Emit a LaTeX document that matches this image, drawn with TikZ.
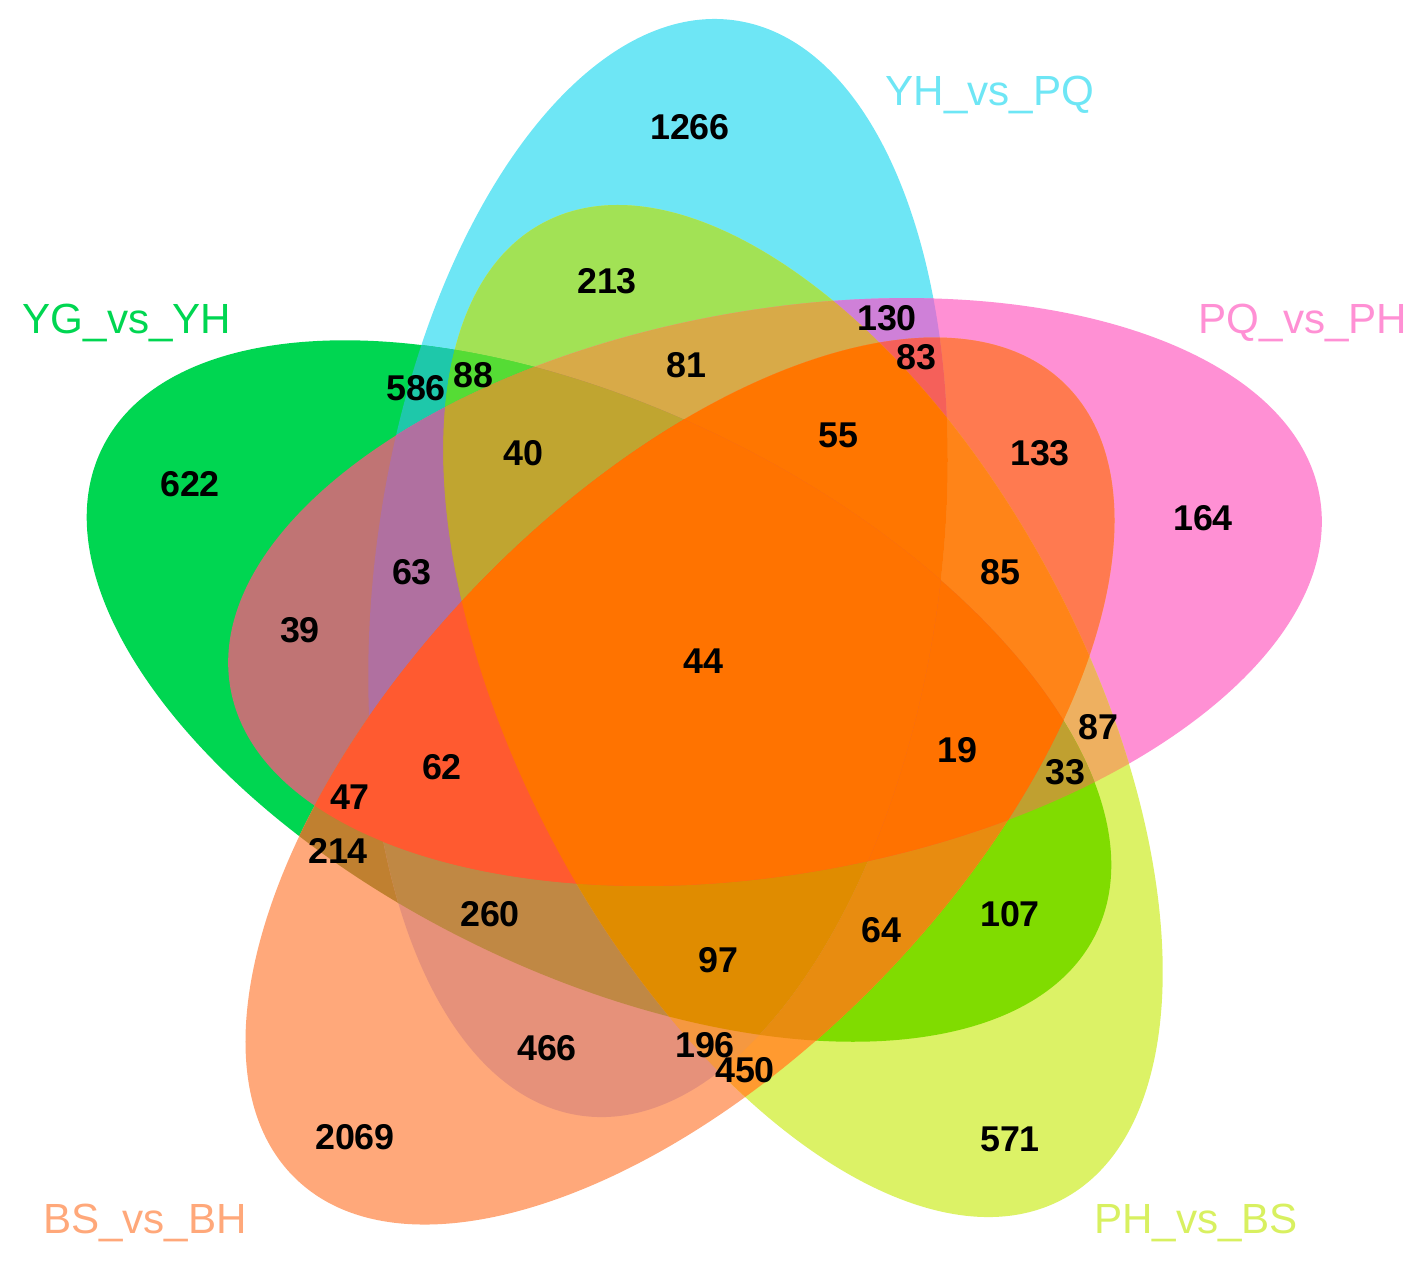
\documentclass[tikz,border=0pt]{standalone}
\usepackage{fontspec}
\setmainfont{Liberation Sans}
\tikzset{
    num/.style={font=\fontsize{10.2}{12}\selectfont\bfseries, inner sep=0pt},
    title/.style={font=\fontsize{12}{14}\selectfont, inner sep=0pt, anchor=base}
}
\definecolor{tYH}{HTML}{6EE6F5}
\definecolor{tPQ}{HTML}{FF90D4}
\definecolor{tYG}{HTML}{00D651}
\definecolor{tBS}{HTML}{FFA87A}
\definecolor{tPH}{HTML}{D8F060}

% the five ellipses (C = YH_vs_PQ, P = PQ_vs_PH, G = YG_vs_YH, S = BS_vs_BH, Y = PH_vs_BS)
\def\eC{(6.58,-5.68) circle [x radius=5.53, y radius=2.82, rotate=82]}
\def\eP{(7.75,-5.92) circle [x radius=5.53, y radius=2.82, rotate=10]}
\def\eG{(5.99,-6.91) circle [x radius=5.53, y radius=2.82, rotate=154]}
\def\eS{(6.80,-7.81) circle [x radius=5.53, y radius=2.82, rotate=46]}
\def\eY{(8.03,-7.11) circle [x radius=5.53, y radius=2.82, rotate=118]}

% clip to every ellipse of a list of letters, then paint the region
\newcommand{\vclip}[1]{\ifx#1\relax\else\expandafter\clip\csname e#1\endcsname;\expandafter\vclip\fi}
\newcommand{\vreg}[2]{\begin{scope}\vclip#1\relax
    \definecolor{vtmp}{HTML}{#2}\fill[vtmp] (0,0) rectangle (14.23,-12.6);\end{scope}}

\begin{document}
\begin{tikzpicture}
\useasboundingbox (0,0) rectangle (14.23,-12.6);

% regions, from one set up to all five
\foreach \s/\c in {C/6EE6F5, P/FF90D4, G/00D651, S/FFA87A, Y/DCF266,
    CY/A2E255, CG/1EC8AA, CP/CF80D8, PG/C07474, PS/FF7A50,
    PY/EEB060, YG/80DC00, SG/C08030, SC/E6917A, SY/FF9A30,
    CGY/55DC35, CPY/D8AA48, CPG/B070A0, CPS/F5605A, PSY/FF8418,
    PYG/C0A030, YGS/E88C10, SCG/C08844, SCY/F59840, SGP/FF5A30,
    CYPG/C0A530, CYPS/FF7600, PSYG/FF7200, GSYC/E08C00, SGPC/FF5A30,
    CPGSY/FF7300}
    {\edef\tmp{\noexpand\vreg{\s}{\c}}\tmp}

% counts
\foreach \v/\x/\y in {1266/6.90/1.27, 213/6.07/2.81, 130/8.87/3.18, 83/9.16/3.57,
    81/6.86/3.65, 586/4.16/3.88, 88/4.73/3.75, 40/5.23/4.53, 55/8.38/4.35,
    133/10.40/4.53, 164/12.03/5.18, 622/1.90/4.84, 63/4.12/5.72, 85/10.00/5.72,
    39/3.00/6.30, 44/7.03/6.61, 87/10.98/7.27, 19/9.57/7.50, 33/10.65/7.72,
    62/4.42/7.67, 47/3.50/7.97, 214/3.38/8.51, 260/4.90/9.14, 107/10.10/9.14,
    64/8.81/9.30, 97/7.18/9.60, 466/5.47/10.48, 196/7.05/10.45, 450/7.45/10.70,
    2069/3.55/11.37, 571/10.10/11.39}
    \node[num] (n\v) at (\x,-\y) {\v};

% set names
\node[title, text=tYH] (lYH) at (9.90,-1.05) {YH\_vs\_PQ};
\node[title, text=tYG] (lYG) at (1.27,-3.33) {YG\_vs\_YH};
\node[title, text=tPQ] (lPQ) at (13.03,-3.33) {PQ\_vs\_PH};
\node[title, text=tBS] (lBS) at (1.45,-12.33) {BS\_vs\_BH};
\node[title, text=tPH] (lPH) at (11.96,-12.33) {PH\_vs\_BS};

\end{tikzpicture}
\end{document}
